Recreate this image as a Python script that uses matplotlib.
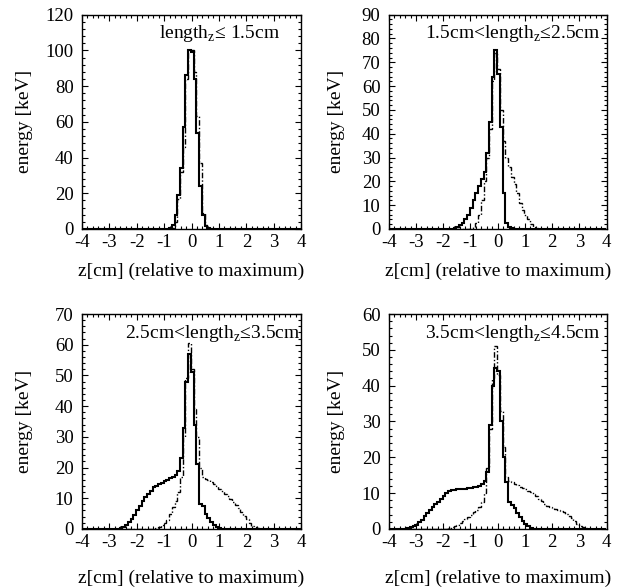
import numpy as np
import matplotlib
matplotlib.use("Agg")
import matplotlib.pyplot as plt
from matplotlib.ticker import MultipleLocator

plt.rcParams["font.family"] = ["Liberation Serif", "DejaVu Serif"]
plt.rcParams["mathtext.fontset"] = "custom"
plt.rcParams["mathtext.rm"] = "Liberation Serif"
plt.rcParams["axes.unicode_minus"] = False

# 80 bins of 0.1 cm, z relative to the maximum
z_edges = np.linspace(-4.02, 3.98, 81)

# each series: lower edge of first non-empty bin, then bin contents [keV]
p1_solid_from = -0.82
p1_solid = [0.5, 2, 8, 19, 34, 57, 86, 100, 99, 84, 54, 24, 8, 1.5, 0.3]
p1_dash_from = -0.72
p1_dash = [0.5, 4, 17, 32, 46, 84, 100, 100, 88, 63, 37, 9, 2, 0.5]

p2_solid_from = -1.62
p2_solid = [0.2, 0.7, 1.5, 2.5, 4, 6, 9, 12, 15, 18, 21, 24, 32, 45, 64, 75,
            65, 43, 15, 2.5, 0.8, 0.2]
p2_dash_from = -1.02
p2_dash = [0.2, 0.8, 2.5, 6, 12, 20, 30, 42, 62, 74, 67, 50, 37, 30, 26, 22,
           19, 15, 11, 8, 6, 4, 2, 0.7, 0.2]

p3_solid_from = -2.72
p3_solid = [0.1, 0.3, 0.7, 1.3, 2.2, 3.3, 4.5, 6, 7.5, 9, 10.5, 11.5, 12.5,
            13.5, 14, 14.5, 15, 15.5, 16, 16.5, 17, 17.5, 19, 23, 33, 48, 57,
            51, 34, 21, 8, 7.5, 5, 3.5, 2.2, 1.2, 0.6, 0.3, 0.1]
p3_dash_from = -1.32
p3_dash = [0.2, 0.6, 1.2, 2, 3, 5, 7, 9, 12, 17, 30, 49, 60.5, 52, 39, 30, 20,
           17, 16.3, 15.8, 15.3, 14.6, 13.9, 13, 12.2, 11.5, 10.7, 9.8, 8.8,
           7.8, 6.7, 5.5, 4.3, 3.1, 2, 1.1, 0.5, 0.2]

p4_solid_from = -3.42
p4_solid = [0.1, 0.2, 0.4, 0.8, 1.2, 1.9, 2.6, 3.5, 4.5, 5.4, 6.2, 6.9, 7.6,
            8.4, 9.3, 10, 10.5, 10.8, 10.9, 11, 11.1, 11.2, 11.2, 11.3, 11.4,
            11.6, 11.8, 12.1, 12.6, 13.5, 16, 29, 40, 45, 44, 30, 20, 13, 7.5,
            6.8, 5.8, 4.5, 3.2, 2.2, 1.3, 0.7, 0.3, 0.1]
p4_dash_from = -1.92
p4_dash = [0.1, 0.2, 0.5, 0.8, 1.2, 1.7, 2.2, 2.8, 3.4, 4, 4.6, 5.3, 6.2, 7.5,
           10, 17, 28, 42, 51, 43, 33, 23, 14.5, 13.5, 13, 12.6, 12.2, 11.8,
           11.4, 11, 10.6, 10.2, 9.7, 9.1, 8.4, 7.7, 7, 6.5, 6.1, 5.8, 5.5,
           5.2, 4.9, 4.6, 4.2, 3.7, 3.1, 2.3, 1.5, 0.9, 0.5, 0.2, 0.1]

labels = ["length$_\\mathrm{z}$≤ 1.5cm",
          "1.5cm<length$_\\mathrm{z}$≤2.5cm",
          "2.5cm<length$_\\mathrm{z}$≤3.5cm",
          "3.5cm<length$_\\mathrm{z}$≤4.5cm"]
y_max = [120, 90, 70, 60]
y_major = [20, 10, 10, 10]
y_minor = [4, 2, 2, 2]


def full(start, vals):
    h = np.zeros(len(z_edges) - 1)
    i0 = int(round((start - z_edges[0]) / 0.1))
    h[i0:i0 + len(vals)] = vals
    return h


panels = [(p1_solid_from, p1_solid, p1_dash_from, p1_dash),
          (p2_solid_from, p2_solid, p2_dash_from, p2_dash),
          (p3_solid_from, p3_solid, p3_dash_from, p3_dash),
          (p4_solid_from, p4_solid, p4_dash_from, p4_dash)]

fig = plt.figure(figsize=(6.3, 5.87), dpi=100)
rects = [[0.130, 0.610, 0.348, 0.365],
         [0.617, 0.610, 0.346, 0.365],
         [0.130, 0.099, 0.348, 0.366],
         [0.617, 0.099, 0.346, 0.366]]
text_x = [0.904, 0.972, 0.995, 0.972]

for k in range(4):
    ax = fig.add_axes(rects[k])
    s0, s, d0, d = panels[k]
    ax.stairs(full(d0, d), z_edges, color="black", lw=1.0,
              linestyle=(0, (4, 1.5, 1, 1.5)))
    ax.stairs(full(s0, s), z_edges, color="black", lw=1.5)

    ax.set_xlim(-4, 4)
    ax.set_ylim(0, y_max[k])
    ax.xaxis.set_major_locator(MultipleLocator(1))
    ax.xaxis.set_minor_locator(MultipleLocator(0.2))
    ax.yaxis.set_major_locator(MultipleLocator(y_major[k]))
    ax.yaxis.set_minor_locator(MultipleLocator(y_minor[k]))
    ax.tick_params(which="both", direction="in", top=True, right=True,
                   labelsize=13.5, width=0.8)
    ax.tick_params(which="major", length=4.5)
    ax.tick_params(which="minor", length=2.2)
    ax.tick_params(axis="x", pad=4)
    ax.tick_params(axis="y", pad=6)
    for sp in ax.spines.values():
        sp.set_linewidth(1.0)

    ax.set_ylabel("energy [keV]", fontsize=14)
    ax.yaxis.set_label_coords(-0.224 if k % 2 == 0 else -0.2, 0.5)
    ax.set_xlabel("z[cm] (relative to maximum)", fontsize=14,
                  labelpad=8 if k < 2 else 13)

    ax.text(text_x[k], 0.89, labels[k], transform=ax.transAxes,
            ha="right", va="baseline", fontsize=14)

fig.savefig("out.png", dpi=100)
